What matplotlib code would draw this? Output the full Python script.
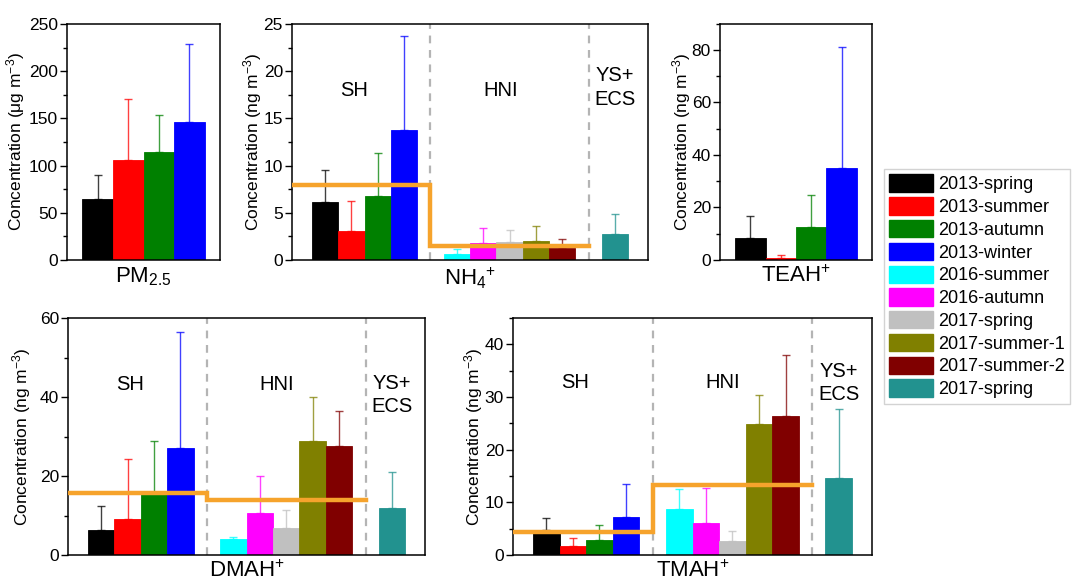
import matplotlib
matplotlib.use("Agg")
import matplotlib.pyplot as plt
import matplotlib.patches as mpatches
import numpy as np

plt.rcParams["font.family"] = ["Liberation Sans", "DejaVu Sans"]
plt.rcParams["mathtext.fontset"] = "custom"
plt.rcParams["mathtext.rm"] = "Liberation Sans"
plt.rcParams["mathtext.it"] = "Liberation Sans:italic"
plt.rcParams["mathtext.bf"] = "Liberation Sans:bold"

# Campaigns (legend order) and their colours
campaigns = ["2013-spring", "2013-summer", "2013-autumn", "2013-winter",
             "2016-summer", "2016-autumn", "2017-spring", "2017-summer-1",
             "2017-summer-2", "2017-spring"]
colors = ["#000000", "#ff0000", "#008000", "#0000ff", "#00ffff",
          "#ff00ff", "#c0c0c0", "#808000", "#800000", "#22928f"]

# bar positions: SH (4 bars) | HNI (5 bars) | YS+ECS (1 bar)
pos_sh4 = [1, 2, 3, 4]
pos_all = [1, 2, 3, 4, 6, 7, 8, 9, 10, 12]
region_edges = [5, 11]

# PM2.5 (ug m-3), SH only
pm25_mean = [64.7, 106.3, 114.7, 146.5]
pm25_sd = [25.2, 64.7, 39.1, 82.0]

# TEAH+ (ng m-3), SH only
teah_mean = [8.2, 0.9, 12.6, 35.0]
teah_sd = [8.5, 1.1, 12.3, 46.0]

# NH4+ (ng m-3)
nh4_mean = [6.1, 3.1, 6.8, 13.8, 0.65, 1.85, 1.95, 2.05, 1.25, 2.75]
nh4_sd = [3.45, 3.1, 4.5, 9.9, 0.55, 1.55, 1.2, 1.55, 1.0, 2.1]
nh4_region = [7.9, 1.45]

# DMAH+ (ng m-3)
dmah_mean = [6.4, 9.1, 15.5, 27.2, 4.05, 10.6, 6.8, 28.9, 27.5, 12.0]
dmah_sd = [6.1, 15.3, 13.4, 29.2, 0.55, 9.5, 4.5, 11.0, 9.0, 9.0]
dmah_region = [15.7, 14.0]

# TMAH+ (ng m-3)
tmah_mean = [4.8, 1.65, 2.8, 7.2, 8.7, 6.0, 2.7, 24.9, 26.3, 14.65]
tmah_sd = [2.25, 1.65, 2.85, 6.3, 3.75, 6.75, 1.85, 5.4, 11.7, 13.05]
tmah_region = [4.4, 13.25]

ORANGE = "#f6a32c"
W, H = 1074, 588
fig = plt.figure(figsize=(W / 100, H / 100), dpi=100)


def px_axes(x, y, w, h):
    return fig.add_axes([x / W, 1 - (y + h) / H, w / W, h / H])


def draw_bars(ax, pos, mean, sd, cols):
    for x, m, s, c in zip(pos, mean, sd, cols):
        ax.bar(x, m, width=1.0, color=c, edgecolor=c, linewidth=0.6, zorder=2)
        ax.errorbar(x, m, yerr=[[0], [s]], fmt="none", ecolor=c, alpha=0.75,
                    elinewidth=1.0, capsize=3, capthick=1.0, zorder=3)


def style(ax, ymax, major, minor, xlabel, ylabel, ylab_x, xlim):
    ax.set_xlim(*xlim)
    ax.set_ylim(0, ymax)
    ax.set_yticks(np.arange(0, ymax + 0.01, major))
    ax.set_yticks(np.arange(0, ymax + 0.01, minor), minor=True)
    ax.set_xticks([])
    ax.tick_params(axis="y", which="major", direction="out", length=5,
                   width=1, labelsize=12.5, pad=1.5)
    ax.tick_params(axis="y", which="minor", direction="out", length=3, width=1)
    for sp in ax.spines.values():
        sp.set_linewidth(1.1)
    ax.set_xlabel(xlabel, fontsize=16, labelpad=4)
    ax.set_ylabel(ylabel, fontsize=12.5, va="center")
    ax.yaxis.set_label_coords(ylab_x, 0.5)


def regions(ax, region_means, y_sh, y_ys):
    for xe in region_edges:
        ax.axvline(xe, color="#b4b4b4", lw=1.6, ls=(0, (3.5, 3)), zorder=1)
    x0 = ax.get_xlim()[0]
    ax.plot([x0, region_edges[0], region_edges[0], region_edges[1]],
            [region_means[0], region_means[0], region_means[1], region_means[1]],
            color=ORANGE, lw=3.2, zorder=4, solid_joinstyle="miter")
    tr = ax.get_xaxis_transform()
    ax.text(2.1, y_sh, "SH", transform=tr, ha="center", va="center",
            fontsize=14.5)
    ax.text(7.65, y_sh, "HNI", transform=tr, ha="center", va="center",
            fontsize=14.5)
    ax.text(12.0, y_ys, "YS+\nECS", transform=tr, ha="center", va="center",
            fontsize=14.5, linespacing=1.3)


ylab_ug = "Concentration (\u03bcg m$^{-3}$)"
ylab_ng = "Concentration (ng m$^{-3}$)"
region_xlim = (-0.25, 13.25)

# PM2.5
ax1 = px_axes(67, 24, 153, 236)
draw_bars(ax1, pos_sh4, pm25_mean, pm25_sd, colors[:4])
style(ax1, 250, 50, 25, "PM$_{2.5}$", ylab_ug, -0.335, (0, 5))

# NH4+
ax2 = px_axes(292, 24, 356, 236)
draw_bars(ax2, pos_all, nh4_mean, nh4_sd, colors)
style(ax2, 25, 5, 2.5, "NH$_4{}^{+}$", ylab_ng, -0.112, region_xlim)
regions(ax2, nh4_region, 0.72, 0.73)

# TEAH+
ax3 = px_axes(720, 23.5, 152, 236.5)
draw_bars(ax3, pos_sh4, teah_mean, teah_sd, colors[:4])
style(ax3, 90, 20, 10, "TEAH$^{+}$", ylab_ng, -0.25, (0, 5))

# DMAH+
ax4 = px_axes(68, 318, 357, 237)
draw_bars(ax4, pos_all, dmah_mean, dmah_sd, colors)
style(ax4, 60, 20, 10, "DMAH$^{+}$", ylab_ng, -0.13, region_xlim)
regions(ax4, dmah_region, 0.72, 0.675)

# TMAH+
ax5 = px_axes(513, 318, 359, 237)
draw_bars(ax5, pos_all, tmah_mean, tmah_sd, colors)
style(ax5, 45, 10, 5, "TMAH$^{+}$", ylab_ng, -0.11, region_xlim)
regions(ax5, tmah_region, 0.726, 0.726)

handles = [mpatches.Patch(facecolor=c, edgecolor=c, label=l)
           for c, l in zip(colors, campaigns)]
leg = fig.legend(handles=handles, loc="upper left",
                 bbox_to_anchor=(884 / W, 1 - 169 / H), borderaxespad=0,
                 fontsize=13, frameon=True, fancybox=False,
                 handlelength=2.4, handleheight=1.1, handletextpad=0.3,
                 labelspacing=0.22, borderpad=0.3)
leg.get_frame().set_edgecolor("#c8c8c8")
leg.get_frame().set_linewidth(1.0)

fig.savefig("out.png", dpi=100)
